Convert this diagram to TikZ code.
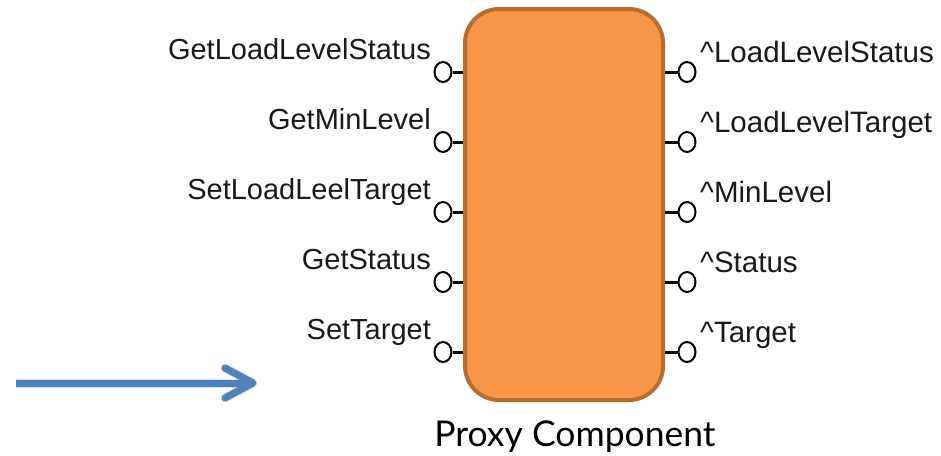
\documentclass[tikz,border=0pt]{standalone}
\usepackage{fontspec}
\setmainfont{Liberation Sans}
\newfontfamily\captionfont{Lato}
\usetikzlibrary{calc,shapes.geometric}
\definecolor{boxfill}{HTML}{F79646}
\definecolor{boxedge}{RGB}{182,109,49}
\definecolor{arrowblue}{HTML}{4F81BD}
\begin{document}
\begin{tikzpicture}[x=1pt,y=-1pt,
  proxybox/.style={draw=boxedge, fill=boxfill, line width=4pt,
    rounded corners=34pt, minimum width=198pt, minimum height=391pt,
    inner sep=0pt},
  port/.style={ellipse, draw=black, line width=2pt, fill=white,
    minimum width=17pt, minimum height=20pt, inner sep=0pt},
  stem/.style={line width=3pt, black},
  leftlabel/.style={anchor=base east, inner sep=0pt,
    font=\fontsize{29}{32}\selectfont, text=black!90},
  rightlabel/.style={anchor=base west, inner sep=0pt,
    font=\fontsize{29.5}{32}\selectfont, text=black!90},
  pointer/.style={arrowblue, line width=7pt},
  pointershadow/.style={black, opacity=0.12, line width=9pt}
]
\useasboundingbox (0,0) rectangle (941,455);

% component body
\node[proxybox] (box) at (564,204.5) {};

% ports on the left and right edges
\foreach \i/\y in {1/72,2/142,3/212,4/282,5/352}{
  \node[port] (lp\i) at (443,\y) {};
  \node[port] (rp\i) at (687,\y) {};
  \draw[stem] (lp\i.east) -- (box.west |- lp\i);
  \draw[stem] (box.east |- rp\i) -- (rp\i.west);
}

% left port names
\node[leftlabel] (l1) at (431,59) {GetLoadLevelStatus};
\node[leftlabel] (l2) at (431,129) {GetMinLevel};
\node[leftlabel] (l3) at (431,199) {SetLoadLeelTarget};
\node[leftlabel] (l4) at (431,269) {GetStatus};
\node[leftlabel] (l5) at (431,339) {SetTarget};

% right port names
\node[rightlabel] (r1) at (700,62) {\string^LoadLevelStatus};
\node[rightlabel] (r2) at (700,132) {\string^LoadLevelTarget};
\node[rightlabel] (r3) at (700,202) {\string^MinLevel};
\node[rightlabel] (r4) at (700,272) {\string^Status};
\node[rightlabel] (r5) at (700,342) {\string^Target};

% caption
\node[anchor=base, inner sep=0pt, font=\captionfont\fontsize{35.5}{40}\selectfont]
  (caption) at (575,446) {Proxy Component};

% blue pointer arrow
\coordinate (arrowtail) at (16,383);
\coordinate (arrowtip) at (253,383);
\begin{scope}[shift={(2,4)}]
  \draw[pointershadow] (arrowtail) -- ($(arrowtip)+(-4,0)$);
  \draw[pointershadow, line cap=round, line join=round]
    ($(arrowtip)+(-28,-15)$) -- (arrowtip) -- ($(arrowtip)+(-28,15)$);
\end{scope}
\draw[pointer] (arrowtail) -- ($(arrowtip)+(-4,0)$);
\draw[pointer, line cap=round, line join=round]
  ($(arrowtip)+(-28,-15)$) -- (arrowtip) -- ($(arrowtip)+(-28,15)$);
\end{tikzpicture}
\end{document}
